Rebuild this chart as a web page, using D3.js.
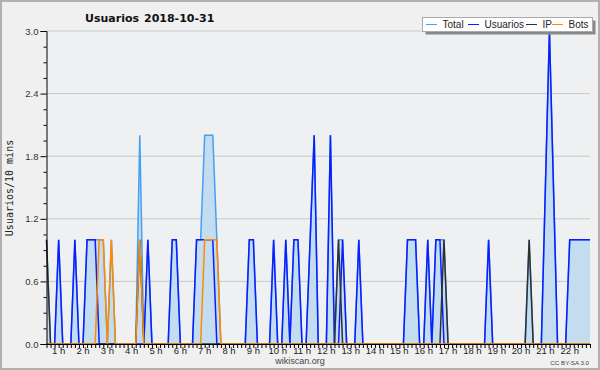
<!DOCTYPE html>
<html>
<head>
<meta charset="utf-8">
<script src="https://cdn.jsdelivr.net/npm/d3@7"></script>
<style>
  body { margin: 0; background: #f0f0f0; }
  svg { display: block; }
</style>
</head>
<body>
<script>
// chart size and plot box
var width = 600, height = 370;
var left = 46.5, right = 590, top_y = 31, bottom_y = 344;

// 10 minute steps, first point at 00:30
var start_min = 30, step_min = 10;

var total = [
  1,0,0,1,0,0,0,1,0,0,
  1,1,1,1,1,0,1,0,0,0,
  0,0,0,2,0,1,0,0,0,0,
  0,1,1,0,0,0,0,1,1,2,
  2,2,1,0,0,0,0,0,0,0,
  1,1,0,0,0,0,1,0,0,1,
  0,1,1,0,0,1,2,0,0,0,
  2,0,1,1,0,0,0,1,0,0,
  0,0,0,0,0,0,0,0,0,1,
  1,1,0,0,1,0,1,1,1,0,
  0,0,0,0,0,0,0,0,0,1,
  0,0,0,0,0,0,0,0,0,1,
  0,0,0,1.5,3,1.5,0,0,0,1,
  1,1,1,1,1
];
var usuarios = [
  0,0,0,1,0,0,0,1,0,0,
  1,1,1,0,0,0,0,0,0,0,
  0,0,0,0,0,1,0,0,0,0,
  0,1,1,0,0,0,0,1,1,1,
  1,1,0,0,0,0,0,0,0,0,
  1,1,0,0,0,0,1,0,0,1,
  0,1,1,0,0,1,2,0,0,0,
  2,0,0,1,0,0,0,1,0,0,
  0,0,0,0,0,0,0,0,0,1,
  1,1,0,0,1,0,1,1,0,0,
  0,0,0,0,0,0,0,0,0,1,
  0,0,0,0,0,0,0,0,0,0,
  0,0,0,1.5,3,1.5,0,0,0,1,
  1,1,1,1,1
];
var ip = [
  1,0,0,0,0,0,0,0,0,0,
  0,0,0,0,0,0,0,0,0,0,
  0,0,0,1,0,0,0,0,0,0,
  0,0,0,0,0,0,0,0,0,0,
  0,0,0,0,0,0,0,0,0,0,
  0,0,0,0,0,0,0,0,0,0,
  0,0,0,0,0,0,0,0,0,0,
  0,0,1,0,0,0,0,0,0,0,
  0,0,0,0,0,0,0,0,0,0,
  0,0,0,0,0,0,0,0,1,0,
  0,0,0,0,0,0,0,0,0,0,
  0,0,0,0,0,0,0,0,0,1,
  0,0,0,0,0,0,0,0,0,0,
  0,0,0,0,0
];
var bots = [
  0,0,0,0,0,0,0,0,0,0,
  0,0,0,1,1,0,1,0,0,0,
  0,0,0,1,0,0,0,0,0,0,
  0,0,0,0,0,0,0,0,0,1,
  1,1,1,0,0,0,0,0,0,0,
  0,0,0,0,0,0,0,0,0,0,
  0,0,0,0,0,0,0,0,0,0,
  0,0,0,0,0,0,0,0,0,0,
  0,0,0,0,0,0,0,0,0,0,
  0,0,0,0,0,0,0,0,0,0,
  0,0,0,0,0,0,0,0,0,0,
  0,0,0,0,0,0,0,0,0,0,
  0,0,0,0,0,0,0,0,0,0,
  0,0,0,0,0
];

var hours = [1,2,3,4,5,6,7,8,9,10,11,12,13,14,15,16,17,18,19,20,21,22];
var hour_labels = ['1 h','2 h','3 h','4 h','5 h','6 h','7 h','8 h','9 h','10 h','11 h',
                   '12 h','13 h','14 h','15 h','16 h','17 h','18 h','19 h','20 h','21 h','22 h'];
var y_ticks = [0, 0.6, 1.2, 1.8, 2.4, 3.0];
var y_minor = [0.15,0.3,0.45,0.75,0.9,1.05,1.35,1.5,1.65,1.95,2.1,2.25,2.55,2.7,2.85];

var series = [
  {name: 'Total', data: total, color: '#45a0f2'},
  {name: 'Usuarios', data: usuarios, color: '#0a1eff'},
  {name: 'IP', data: ip, color: '#303030'},
  {name: 'Bots', data: bots, color: '#ff8a00'}
];

var n = total.length;
var minute_of = function(i){ return start_min + step_min*i };

var svg = d3.select('body').append('svg').attr('width', width).attr('height', height)

svg.append('rect').attr('x', 1).attr('y', 1).attr('width', width-2).attr('height', height-2)
  .attr('fill', '#f0f0f0').attr('stroke', '#b0b0b0').attr('stroke-width', 2)
svg.append('rect').attr('x', left).attr('y', top_y).attr('width', right-left).attr('height', bottom_y-top_y)
  .attr('fill', '#eef0f2')

var x = d3.scaleLinear().domain([minute_of(0), minute_of(n-1)]).range([left, right])
var y = d3.scaleLinear().domain([0, 3]).range([bottom_y, top_y])

// grid
svg.append('g').selectAll('line').data(y_ticks.slice(1)).enter().append('line')
  .attr('x1', left).attr('x2', right)
  .attr('y1', d => y(d)).attr('y2', d => y(d))
  .attr('stroke', '#c8c8c8').attr('stroke-width', 1)

// area under total
var area = d3.area().x((d, i) => x(minute_of(i))).y0(y(0)).y1(d => y(d))
svg.append('path').datum(total).attr('d', area).attr('fill', '#c4dcf0')

var line = d3.line().x((d, i) => x(minute_of(i))).y(d => y(d))
series.forEach(function(s){
  svg.append('path').datum(s.data).attr('d', line)
    .attr('fill', 'none').attr('stroke', s.color).attr('stroke-width', 1.5)
    .attr('stroke-linejoin', 'miter')
})

// y axis
var yaxis = svg.append('g').attr('transform', 'translate('+left+',0)')
  .call(d3.axisLeft(y).tickValues(y_ticks).tickSize(6).tickPadding(2).tickFormat(d3.format('.1f')))
yaxis.append('g').selectAll('line').data(y_minor).enter().append('line')
  .attr('x1', -3).attr('x2', 0).attr('y1', d => y(d)+0.5).attr('y2', d => y(d)+0.5)
  .attr('stroke', '#000')
yaxis.selectAll('text').attr('font-family', '"Liberation Sans Narrow", "Liberation Sans", sans-serif')
  .attr('font-size', 9.5).attr('fill', '#333')

// x axis, one tick per point
var xaxis = svg.append('g').attr('transform', 'translate(0,'+bottom_y+')')
  .call(d3.axisBottom(x).tickValues(total.map((d, i) => minute_of(i))).tickSize(4).tickFormat(''))
xaxis.select('.domain').attr('d', 'M'+left+',0.5H'+(right+0.5))
svg.append('g').selectAll('text').data(hours).enter().append('text')
  .attr('x', d => x(d*60)).attr('y', 354).attr('text-anchor', 'middle')
  .attr('font-family', '"Liberation Sans Narrow", "Liberation Sans", sans-serif').attr('font-size', 9.5)
  .attr('fill', '#222')
  .text((d, i) => hour_labels[i])

// titles
svg.append('text').attr('x', 85).attr('y', 21.5).attr('font-family', '"DejaVu Sans", sans-serif')
  .attr('font-weight', 'bold').attr('font-size', 11).attr('fill', '#111').text('Usuarios')
svg.append('text').attr('x', 144).attr('y', 21.5).attr('font-family', '"DejaVu Sans", sans-serif')
  .attr('font-weight', 'bold').attr('font-size', 11).attr('fill', '#111').text('2018-10-31')

svg.append('text').attr('transform', 'translate(13,188) rotate(-90)').attr('text-anchor', 'middle')
  .attr('font-family', '"DejaVu Sans Mono", monospace').attr('font-size', 10).attr('fill', '#222')
  .text('Usuarios/10 mins')

svg.append('text').attr('x', 300).attr('y', 364).attr('text-anchor', 'middle')
  .attr('font-family', '"Liberation Sans", sans-serif').attr('font-size', 9).attr('fill', '#444')
  .text('wikiscan.org')
svg.append('text').attr('x', 589).attr('y', 365).attr('text-anchor', 'end')
  .attr('font-family', '"Liberation Sans", sans-serif').attr('font-size', 6.2).attr('fill', '#444')
  .text('CC BY-SA 3.0')

// legend
var leg = svg.append('g')
leg.append('rect').attr('x', 425.5).attr('y', 20.5).attr('width', 170).attr('height', 14).attr('fill', '#888')
leg.append('rect').attr('x', 422.5).attr('y', 17.5).attr('width', 170).attr('height', 14)
  .attr('fill', '#fff').attr('stroke', '#aaa')
var leg_x = [426, 468, 526, 552];
series.forEach(function(s, i){
  leg.append('line').attr('x1', leg_x[i]).attr('x2', leg_x[i]+11).attr('y1', 24.5).attr('y2', 24.5)
    .attr('stroke', s.color).attr('stroke-width', 1)
  leg.append('text').attr('x', leg_x[i]+16.5).attr('y', 28.3)
    .attr('font-family', '"Liberation Sans", sans-serif').attr('font-size', 10).attr('fill', '#222')
    .text(s.name)
})
</script>
</body>
</html>
